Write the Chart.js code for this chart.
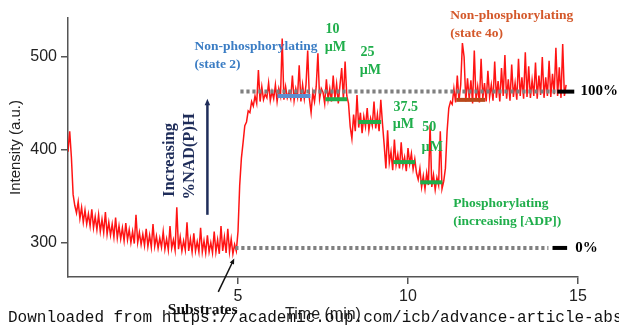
<!DOCTYPE html>
<html>
<head>
<meta charset="utf-8">
<script src="https://cdn.jsdelivr.net/npm/chart.js@4.4.1/dist/chart.umd.min.js"></script>
<style>
  html, body { margin: 0; padding: 0; background: #fff; }
  #wrap { position: relative; width: 619px; height: 325px; }
</style>
</head>
<body>
<div id="wrap"><canvas id="chart"></canvas></div>
<script>
// sampled trace, one value every 0.05 min starting at t = 0
const traceStep = 0.05;

const baseline = [
    398, 420, 392, 352, 340, 332, 344, 326, 338, 322,
    335, 320, 331, 318, 336, 316, 328, 314, 330, 312,
    325, 311, 333, 309, 322, 308, 320, 306, 327, 305,
    318, 304, 316, 302, 321, 303, 314, 300, 312, 299,
    330, 300, 311, 298, 309, 297, 315, 296, 308, 295,
    320, 296, 307, 294, 305, 295, 312, 293, 304, 292,
    318, 294, 303, 292, 338, 293, 306, 291, 302, 292,
    322, 291, 304, 290, 310, 291, 301, 290, 316, 290,
    302, 289, 308, 290, 300, 289, 312, 290, 303, 288,
    318, 291, 306, 289, 315, 290, 304, 288, 298, 291
];
const state2 = [
    312, 362, 391, 408, 426, 430, 442, 440, 452, 447,
    458, 450, 486, 452, 468, 454, 460, 456, 472, 453,
    463, 455, 470, 452, 466, 458, 520, 454, 468, 456,
    462, 455, 480, 453, 466, 457, 491, 452, 470, 455,
    470, 507, 455, 440, 462, 452, 468, 504, 455, 466,
    462, 450, 476, 454, 466, 452, 480, 455, 471, 450,
    470, 488, 454, 495, 458, 450
];
const adp25 = [
    425, 412, 438, 420, 459, 424, 440, 418, 436, 425,
    445, 421, 434, 426, 452, 423, 438, 420, 454, 428
];
const adp375 = [
    405, 380, 421, 386, 398, 378, 411, 384, 395, 380,
    408, 383, 392, 377, 402, 385, 396, 379, 390, 375
];
const adp50 = [
    368, 380, 360, 372, 358, 375, 362, 427, 360, 373,
    357, 370, 362, 420, 358, 366
];
const state4o = [
    380, 420, 445, 452, 449, 466, 451, 480, 453, 470,
    515, 500, 452, 477, 455, 475, 450, 507, 454, 468,
    451, 498, 455, 472, 452, 485, 457, 470, 453, 495,
    456, 474, 452, 488, 458, 502, 455, 476, 453, 492,
    457, 472, 454, 498, 458, 478, 455, 505, 457, 490,
    456, 475, 458, 494, 455, 480, 459, 500, 456, 478,
    458, 496, 457, 482, 460, 510, 458, 489, 456, 514,
    458, 470
];

const xTicks = [5, 10, 15];
const yTicks = [300, 400, 500];

// reference levels (100 % and 0 %)
const refNames      = ['100%', '0%'];
const refLevels     = [462.7, 294.3];
const refDotStart   = [5.07, 4.92];
const refDotEnd     = [14.39, 14.13];
const refMarkStart  = [14.39, 14.25];
const refMarkEnd    = [14.89, 14.68];
const refLabelTime  = [15.07, 14.92];

// mean level bars for each state
const barKinds  = ['state2', 'adp', 'adp', 'adp', 'adp', 'state4o'];
const barStarts = [6.16, 7.57, 8.54, 9.57, 10.36, 11.42];
const barEnds   = [7.13, 8.21, 9.21, 10.21, 11.01, 12.27];
const barLevels = [458, 454.5, 430, 386.8, 365, 453.8];

// text notes
const noteTexts  = ['Non-phosphorylating', '(state 2)', '10', 'µM', '25', 'µM', '37.5', 'µM', '50', 'µM',
                    'Non-phosphorylating', '(state 4o)', 'Phosphorylating', '(increasing [ADP])'];
const noteKinds  = ['state2', 'state2', 'adp', 'adp', 'adp', 'adp', 'adp', 'adp', 'adp', 'adp',
                    'state4o', 'state4o', 'phos', 'phos'];
const noteTimes  = [3.72, 3.72, 7.57, 7.55, 8.6, 8.58, 9.57, 9.55, 10.42, 10.4, 11.24, 11.24, 11.33, 11.33];
const noteLevels = [510.8, 491.4, 530, 510.8, 505.4, 486, 446, 427, 423.7, 403, 545, 525.8, 341.9, 322.6];

const colors = {
    trace: 'rgba(255, 0, 0, 0.92)',
    dots: '#808080',
    state2Bar: '#5b8fd0',
    state2: '#3b7dc4',
    adp: '#1fae4b',
    state4oBar: '#b9471a',
    state4o: '#d4582a',
    phos: '#1fae4b',
    navy: '#1f2d5a',
    axis: '#555555'
};

const segments = [baseline, state2, adp25, adp375, adp50, state4o];
const traceValues = [].concat(...segments);
const tracePoints = traceValues.map((v, i) => ({ x: +(i * traceStep).toFixed(2), y: v }));

function seg(t0, t1, v) { return [{ x: t0, y: v }, { x: t1, y: v }]; }

const datasets = [];
datasets.push({
    label: 'trace', data: tracePoints, borderColor: colors.trace, borderWidth: 1.5,
    pointRadius: 0, tension: 0, order: 10
});
refLevels.forEach((lvl, i) => {
    datasets.push({
        label: refNames[i] + ' dots', data: seg(refDotStart[i], refDotEnd[i], lvl),
        borderColor: colors.dots, borderWidth: 4, borderDash: [3.2, 2.8], borderCapStyle: 'butt',
        pointRadius: 0, order: 2
    });
    datasets.push({
        label: refNames[i] + ' mark', data: seg(refMarkStart[i], refMarkEnd[i], lvl),
        borderColor: '#000', borderWidth: 4, pointRadius: 0, order: 1
    });
});
barLevels.forEach((lvl, i) => {
    const k = barKinds[i];
    datasets.push({
        label: k + ' bar ' + i, data: seg(barStarts[i], barEnds[i], lvl),
        borderColor: k === 'adp' ? colors.adp : colors[k + 'Bar'], borderWidth: 4,
        pointRadius: 0, order: 1
    });
});

const SERIF = '"Liberation Serif", "DejaVu Serif", serif';

const notesPlugin = {
    id: 'notes',
    afterDraw(chart) {
        const ctx = chart.ctx;
        const xs = chart.scales.x, ys = chart.scales.y;
        const px = t => xs.getPixelForValue(t);
        const py = v => ys.getPixelForValue(v);

        ctx.save();
        ctx.textBaseline = 'middle';
        ctx.textAlign = 'left';

        noteTexts.forEach((txt, i) => {
            const k = noteKinds[i];
            ctx.font = 'bold ' + (k === 'adp' ? 14 : 13.5) + 'px ' + SERIF;
            ctx.fillStyle = colors[k];
            ctx.fillText(txt, px(noteTimes[i]), py(noteLevels[i]));
        });

        // 100% / 0% labels
        ctx.fillStyle = '#000';
        ctx.font = 'bold 15px ' + SERIF;
        refNames.forEach((name, i) => ctx.fillText(name, px(refLabelTime[i]), py(refLevels[i])));

        // Increasing %NAD(P)H, rotated, with arrow
        ctx.fillStyle = colors.navy;
        ctx.font = 'bold 16.5px ' + SERIF;
        ctx.textAlign = 'center';
        [['Increasing', 3.0, 389], ['%NAD(P)H', 3.57, 393]].forEach(([txt, t, v]) => {
            ctx.save();
            ctx.translate(px(t), py(v));
            ctx.rotate(-Math.PI / 2);
            ctx.fillText(txt, 0, 0);
            ctx.restore();
        });
        drawArrow(ctx, px(4.1), py(330), px(4.1), py(455), colors.navy, 2.5, 7);

        // Substrates
        ctx.fillStyle = '#111';
        ctx.font = 'bold 15.5px ' + SERIF;
        ctx.fillText('Substrates', px(3.96), py(227));
        drawArrow(ctx, px(4.42), py(247), px(4.89), py(283), '#111', 1.5, 6);

        // download watermark
        ctx.textAlign = 'left';
        ctx.textBaseline = 'alphabetic';
        ctx.fillStyle = '#111';
        ctx.font = '16px "Liberation Mono", "DejaVu Sans Mono", monospace';
        ctx.fillText('Downloaded from https://academic.oup.com/icb/advance-article-abs', 8, 322);
        ctx.restore();
    }
};

function drawArrow(ctx, x0, y0, x1, y1, color, w, head) {
    const a = Math.atan2(y1 - y0, x1 - x0);
    ctx.save();
    ctx.strokeStyle = color;
    ctx.fillStyle = color;
    ctx.lineWidth = w;
    ctx.beginPath();
    ctx.moveTo(x0, y0);
    ctx.lineTo(x1 - Math.cos(a) * head * 0.8, y1 - Math.sin(a) * head * 0.8);
    ctx.stroke();
    ctx.beginPath();
    ctx.moveTo(x1, y1);
    ctx.lineTo(x1 - head * Math.cos(a - 0.4), y1 - head * Math.sin(a - 0.4));
    ctx.lineTo(x1 - head * Math.cos(a + 0.4), y1 - head * Math.sin(a + 0.4));
    ctx.closePath();
    ctx.fill();
    ctx.restore();
}

const axisFont = { family: '"Liberation Sans", Arial, sans-serif', size: 16 };

new Chart(document.getElementById('chart'), {
    type: 'line',
    data: { datasets: datasets },
    plugins: [notesPlugin],
    options: {
        responsive: true,
        maintainAspectRatio: false,
        animation: false,
        parsing: false,
        layout: { padding: { top: 18, right: 41, left: 0, bottom: 0 } },
        plugins: { legend: { display: false }, tooltip: { enabled: false } },
        scales: {
            x: {
                type: 'linear', min: 0, max: 15,
                afterBuildTicks: s => { s.ticks = xTicks.map(v => ({ value: v })); },
                afterFit: s => { s.height = 48; },
                ticks: { color: '#222', font: axisFont, padding: 3, maxRotation: 0 },
                grid: { display: true, drawOnChartArea: false, tickLength: 7, color: colors.axis, lineWidth: 1.5 },
                border: { display: true, color: colors.axis, width: 1.5 },
                title: { display: true, text: 'Time (min)', color: '#222', font: axisFont, padding: { top: 0, bottom: 1 } }
            },
            y: {
                type: 'linear', min: 263, max: 542,
                afterBuildTicks: s => { s.ticks = yTicks.map(v => ({ value: v })); },
                afterFit: s => { s.width = 68; },
                ticks: { color: '#222', font: axisFont, padding: 4 },
                grid: { display: true, drawOnChartArea: false, tickLength: 7, color: colors.axis, lineWidth: 1.5 },
                border: { display: true, color: colors.axis, width: 1.5 },
                title: { display: true, text: 'Intensity (a.u.)', color: '#222',
                         font: { family: axisFont.family, size: 15 }, padding: { top: 7, bottom: 0 } }
            }
        }
    }
});
</script>
</body>
</html>
